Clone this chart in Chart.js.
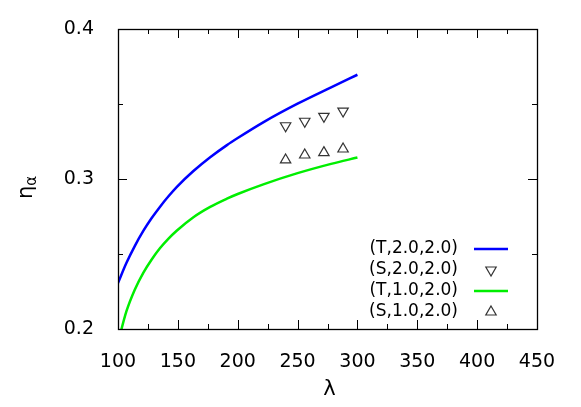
<!DOCTYPE html>
<html>
<head>
<meta charset="utf-8">
<script src="https://cdn.jsdelivr.net/npm/chart.js@4/dist/chart.umd.min.js"></script>
<style>
  html, body { margin: 0; padding: 0; background: #fff; }
  #wrap { width: 581px; height: 407px; }
</style>
</head>
<body>
<div id="wrap"><canvas id="chart" width="581" height="407"></canvas></div>
<script>
// curves (theory)
const lambdaGrid = [100, 107, 114, 121, 128, 135, 142, 149, 163, 177, 191, 200, 222, 250, 278, 300];
const etaT20 = [0.2307, 0.2440, 0.2553, 0.2652, 0.2738, 0.2814, 0.2883, 0.2946, 0.3053, 0.3145, 0.3226, 0.3273, 0.3381, 0.3502, 0.3611, 0.3695];
const etaT10 = [0.191, 0.2117, 0.2262, 0.2373, 0.2462, 0.2538, 0.2601, 0.2655, 0.2745, 0.2814, 0.2869, 0.2900, 0.2966, 0.3039, 0.3101, 0.3143];

// simulation points
const lambdaSim = [240, 256, 272, 288];
const etaS20 = [0.3355, 0.3385, 0.3418, 0.3453];
const etaS10 = [0.3127, 0.3160, 0.3176, 0.3200];

const xTicks = [100, 150, 200, 250, 300, 350, 400, 450];
const yTicks = [0.2, 0.3, 0.4];

const FONT = 'DejaVu Sans';

const pairs = (xs, ys) => xs.map((x, i) => ({ x: x, y: ys[i] }));

// frame, inward ticks on all sides, legend inside the plot, axis titles
const decorPlugin = {
  id: 'decor',
  afterDraw(chart) {
    const ctx = chart.ctx;
    const a = chart.chartArea;
    const xs = chart.scales.x, ys = chart.scales.y;
    ctx.save();
    ctx.strokeStyle = '#000';
    ctx.lineWidth = 1.3;
    ctx.strokeRect(a.left + 0.5, a.top + 0.5, a.right - a.left, a.bottom - a.top);

    ctx.lineWidth = 1;
    ctx.beginPath();
    for (let v = 100; v <= 450; v += 25) {
      const px = Math.round(xs.getPixelForValue(v)) + 0.5;
      const len = v % 50 === 0 ? 9 : 5;
      ctx.moveTo(px, a.bottom); ctx.lineTo(px, a.bottom - len);
      ctx.moveTo(px, a.top); ctx.lineTo(px, a.top + len);
    }
    for (let k = 0; k <= 4; k++) {
      const v = 0.2 + k * 0.05;
      const py = Math.round(ys.getPixelForValue(v)) + 0.5;
      const len = k % 2 === 0 ? 9 : 5;
      ctx.moveTo(a.left, py); ctx.lineTo(a.left + len, py);
      ctx.moveTo(a.right, py); ctx.lineTo(a.right - len, py);
    }
    ctx.stroke();

    // legend
    ctx.font = '17px "' + FONT + '"';
    ctx.textAlign = 'right';
    ctx.textBaseline = 'middle';
    const rowY = [249, 270, 291, 312];
    chart.data.datasets.forEach((ds, i) => {
      const y = rowY[i];
      ctx.fillStyle = '#000';
      ctx.fillText(ds.label, 458, y);
      if (ds.showLine) {
        ctx.strokeStyle = ds.borderColor;
        ctx.lineWidth = 2.5;
        ctx.beginPath();
        ctx.moveTo(474, y); ctx.lineTo(508, y);
        ctx.stroke();
      } else {
        const r = ds.pointRadius;
        const rot = (ds.pointRotation || 0) * Math.PI / 180;
        ctx.strokeStyle = ds.pointBorderColor;
        ctx.lineWidth = ds.pointBorderWidth;
        ctx.beginPath();
        for (let j = 0; j < 3; j++) {
          const ang = rot + j * 2 * Math.PI / 3;
          const px = 491 + Math.sin(ang) * r, py = y - Math.cos(ang) * r;
          if (j === 0) ctx.moveTo(px, py); else ctx.lineTo(px, py);
        }
        ctx.closePath();
        ctx.stroke();
      }
    });

    // axis titles
    ctx.fillStyle = '#000';
    ctx.textAlign = 'center';
    ctx.textBaseline = 'middle';
    ctx.font = '21px "' + FONT + '"';
    ctx.fillText('λ', (a.left + a.right) / 2 + 2, 390);

    ctx.translate(27, 185);
    ctx.rotate(-Math.PI / 2);
    ctx.textAlign = 'left';
    ctx.textBaseline = 'alphabetic';
    ctx.font = '21px "' + FONT + '"';
    ctx.fillText('η', -14, 5);
    const w = ctx.measureText('η').width;
    ctx.font = '15px "' + FONT + '"';
    ctx.fillText('α', -14 + w, 9);
    ctx.restore();
  }
};

new Chart(document.getElementById('chart'), {
  type: 'scatter',
  data: {
    datasets: [
      {
        label: '(T,2.0,2.0)',
        data: pairs(lambdaGrid, etaT20),
        showLine: true,
        borderColor: '#0000ff',
        borderWidth: 2.5,
        pointRadius: 0,
        cubicInterpolationMode: 'monotone'
      },
      {
        label: '(S,2.0,2.0)',
        data: pairs(lambdaSim, etaS20),
        showLine: false,
        pointStyle: 'triangle',
        pointRotation: 180,
        pointRadius: 6,
        pointBorderWidth: 1.2,
        pointBorderColor: '#333',
        pointBackgroundColor: 'rgba(0,0,0,0)'
      },
      {
        label: '(T,1.0,2.0)',
        data: pairs(lambdaGrid, etaT10),
        showLine: true,
        borderColor: '#00ee00',
        borderWidth: 2.5,
        pointRadius: 0,
        cubicInterpolationMode: 'monotone'
      },
      {
        label: '(S,1.0,2.0)',
        data: pairs(lambdaSim, etaS10),
        showLine: false,
        pointStyle: 'triangle',
        pointRotation: 0,
        pointRadius: 6,
        pointBorderWidth: 1.2,
        pointBorderColor: '#333',
        pointBackgroundColor: 'rgba(0,0,0,0)'
      }
    ]
  },
  options: {
    responsive: false,
    animation: false,
    layout: { padding: { top: 29, right: 44, left: 0, bottom: 0 } },
    plugins: { legend: { display: false }, tooltip: { enabled: false } },
    scales: {
      x: {
        type: 'linear',
        min: 100,
        max: 450,
        afterFit(s) { s.height = 78; },
        afterBuildTicks(s) { s.ticks = xTicks.map(v => ({ value: v })); },
        grid: { display: false },
        border: { display: false },
        ticks: { color: '#000', padding: 14, font: { family: FONT, size: 19 } }
      },
      y: {
        type: 'linear',
        min: 0.2,
        max: 0.4,
        afterFit(s) { s.width = 118; },
        afterBuildTicks(s) { s.ticks = yTicks.map(v => ({ value: v })); },
        grid: { display: false },
        border: { display: false },
        ticks: {
          color: '#000',
          padding: 16,
          font: { family: FONT, size: 19 },
          callback: v => v.toFixed(1)
        }
      }
    }
  },
  plugins: [decorPlugin]
});
</script>
</body>
</html>
